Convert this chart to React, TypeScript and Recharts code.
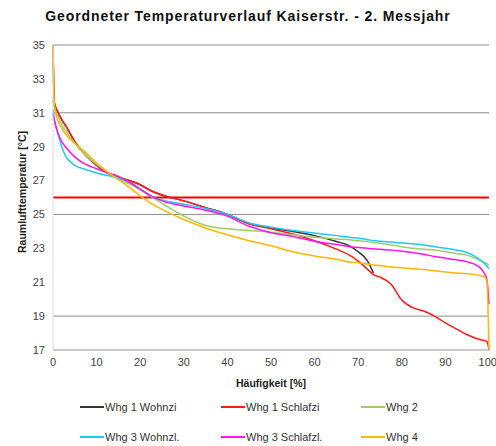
import { LineChart, Line, XAxis, YAxis, ReferenceLine } from "recharts"

// Häufigkeit [%] – common grid of the sorted (duration) curves
const pct = [0, 0.3, 1, 2, 3, 5, 7.5, 10, 12.5, 15, 17.5, 20, 22.5, 25, 30, 35, 40, 45, 50, 55, 60, 65, 68, 70, 72, 73.5, 75, 77.5, 80, 82.5, 85, 87.5, 90, 92.5, 95, 97.5, 99, 99.5, 100]

// Raumlufttemperatur [°C] per room
const whg1Wohnzi = [35, 31.6, 31.1, 30.6, 30.2, 29.3, 28.5, 27.9, 27.45, 27.2, 27.0, 26.75, 26.4, 26.15, 25.8, 25.4, 25.0, 24.45, 24.2, 24.0, 23.75, 23.4, 23.15, 22.8, 22.3, 21.55, null, null, null, null, null, null, null, null, null, null, null, null, null]
const whg1Schlafzi = [35, 31.6, 31.1, 30.6, 30.2, 29.3, 28.5, 27.9, 27.45, 27.2, 27.0, 26.75, 26.4, 26.15, 25.8, 25.4, 25.0, 24.45, 24.15, 23.85, 23.45, 22.95, 22.6, 22.25, 21.8, 21.45, 21.3, 20.9, 19.95, 19.5, 19.3, 19.0, 18.6, 18.25, 17.9, 17.65, 17.55, 17.5, 17.0]
const whg2 = [31.8, 31.3, 30.9, 30.3, 29.9, 29.2, 28.5, 27.95, 27.5, 27.1, 26.8, 26.45, 26.05, 25.65, 24.9, 24.35, 24.15, 24.05, 23.95, 23.8, 23.65, 23.55, 23.5, 23.45, 23.4, 23.35, 23.3, 23.2, 23.1, 23.0, 22.95, 22.9, 22.8, 22.7, 22.6, 22.35, 22.15, 22.1, 22.0]
const whg3Wohnzl = [31.2, 30.6, 29.9, 29.0, 28.4, 27.9, 27.65, 27.45, 27.3, 27.15, 26.9, 26.5, 26.05, 25.85, 25.6, 25.35, 25.0, 24.5, 24.25, 24.05, 23.9, 23.75, 23.65, 23.6, 23.52, 23.46, 23.42, 23.37, 23.32, 23.27, 23.2, 23.1, 23.0, 22.9, 22.75, 22.4, 22.1, 21.95, 21.8]
const whg3Schlafzl = [31.0, 30.6, 29.9, 29.3, 28.95, 28.4, 27.95, 27.7, 27.45, 27.25, 26.9, 26.5, 26.1, 25.8, 25.5, 25.25, 24.9, 24.3, 23.92, 23.7, 23.42, 23.22, 23.1, 23.05, 23.0, 22.97, 22.94, 22.9, 22.83, 22.75, 22.65, 22.52, 22.42, 22.32, 22.2, 21.95, 21.5, 21.2, 19.7]
const whg4 = [35, 31.5, 30.6, 30.1, 29.7, 29.2, 28.65, 28.05, 27.5, 27.05, 26.6, 26.1, 25.65, 25.3, 24.7, 24.2, 23.8, 23.45, 23.15, 22.8, 22.55, 22.35, 22.2, 22.15, 22.08, 22.02, 21.98, 21.9, 21.85, 21.8, 21.75, 21.67, 21.6, 21.55, 21.5, 21.42, 21.3, 21.1, 17.0]

const xTicks = [0, 10, 20, 30, 40, 50, 60, 70, 80, 90, 100]
const yTicks = [17, 19, 21, 23, 25, 27, 29, 31, 33, 35]
const gridValues = [35, 31, 25, 19]
const limit = 26

const series = [
  { key: "w1w", name: "Whg 1 Wohnzi", color: "#333333", values: whg1Wohnzi },
  { key: "w1s", name: "Whg 1 Schlafzi", color: "#FF1A1A", values: whg1Schlafzi },
  { key: "w2", name: "Whg 2", color: "#9ACD66", values: whg2 },
  { key: "w3w", name: "Whg 3 Wohnzl.", color: "#1CC8F5", values: whg3Wohnzl },
  { key: "w3s", name: "Whg 3 Schlafzl.", color: "#FF14F0", values: whg3Schlafzl },
  { key: "w4", name: "Whg 4", color: "#FFB700", values: whg4 },
]

const data = pct.map((p, i) => {
  const row: Record<string, number | null> = { p }
  series.forEach(s => { row[s.key] = s.values[i] })
  return row
})

const font = '"Liberation Sans", Arial, sans-serif'
const legendPos = [
  { left: 80, top: 401 }, { left: 221, top: 401 }, { left: 361, top: 401 },
  { left: 80, top: 431 }, { left: 221, top: 431 }, { left: 361, top: 431 },
]

export default function App() {
  return (
    <div style={{ position: "absolute", left: 0, top: 0, width: 496, height: 446, background: "#fff", fontFamily: font }}>
      <div style={{ position: "absolute", left: 0, width: 496, top: 8, textAlign: "center", fontSize: 14, letterSpacing: 0.9, fontWeight: "bold", color: "#111" }}>
        Geordneter Temperaturverlauf Kaiserstr. - 2. Messjahr
      </div>
      <div style={{
        position: "absolute", left: 22, top: 192, transform: "translate(-50%, -50%) rotate(-90deg)",
        fontSize: 10.5, fontWeight: "bold", color: "#222", whiteSpace: "nowrap",
      }}>
        Raumlufttemperatur [°C]
      </div>
      <LineChart width={496} height={446} data={data} margin={{ top: 45, right: 7, bottom: 56, left: 0 }}>
        <XAxis
          dataKey="p"
          type="number"
          domain={[0, 100]}
          ticks={xTicks}
          tick={{ fill: "#444", fontSize: 11, fontFamily: font }}
          tickLine={false}
          axisLine={{ stroke: "#999" }}
          height={40}
          label={{ value: "Häufigkeit [%]", position: "insideBottom", offset: 3, fill: "#222", fontSize: 10.5, fontWeight: "bold", fontFamily: font }}
        />
        <YAxis
          type="number"
          domain={[17, 35]}
          ticks={yTicks}
          tick={{ fill: "#444", fontSize: 11, fontFamily: font }}
          tickLine={false}
          axisLine={{ stroke: "#ddd" }}
          width={53}
        />
        {gridValues.map(v => (
          <ReferenceLine key={v} y={v} stroke="#8c8c8c" />
        ))}
        <ReferenceLine y={limit} stroke="#FF0000" strokeWidth={2} />
        {series.map(s => (
          <Line
            key={s.key}
            type="monotone"
            dataKey={s.key}
            name={s.name}
            stroke={s.color}
            strokeWidth={1.5}
            dot={false}
            isAnimationActive={false}
          />
        ))}
      </LineChart>
      {series.map((s, i) => (
        <div key={s.key} style={{ position: "absolute", left: legendPos[i].left, top: legendPos[i].top, display: "flex", alignItems: "center", fontSize: 11, color: "#333" }}>
          <span style={{ width: 24, height: 2, background: s.color, display: "inline-block", marginRight: 1 }} />
          <span>{s.name}</span>
        </div>
      ))}
    </div>
  )
}
